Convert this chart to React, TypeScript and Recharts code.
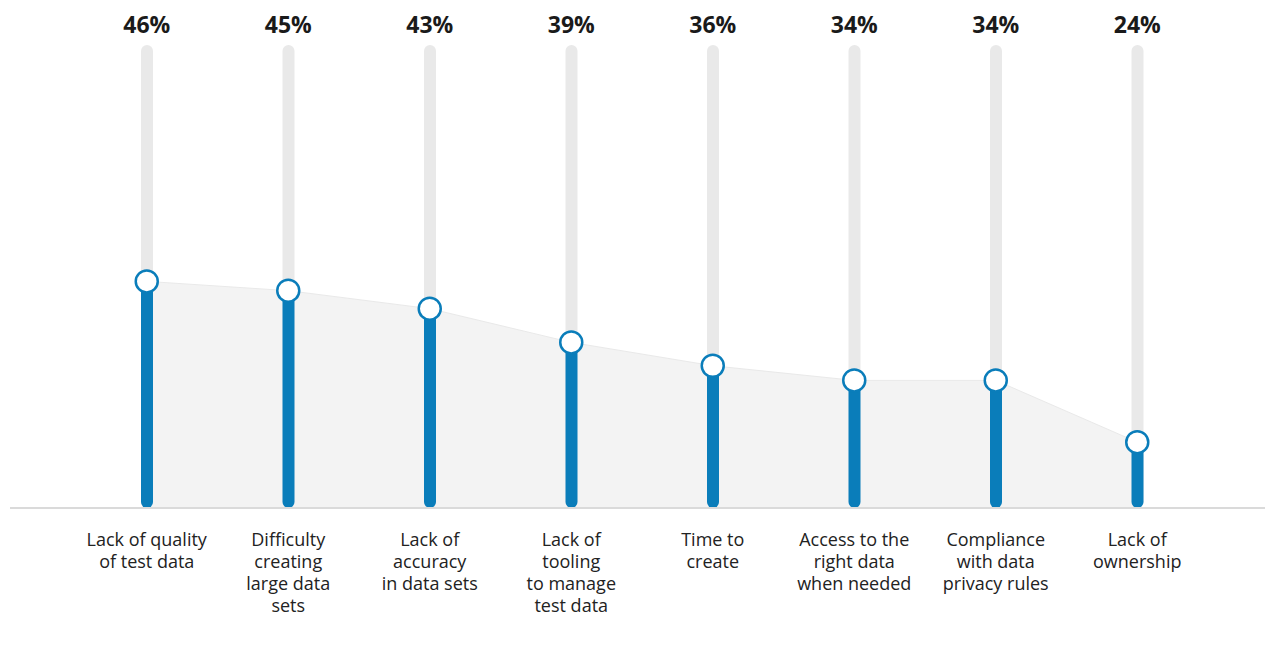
import { Area, Bar, ComposedChart, Line, XAxis, YAxis } from 'recharts'

const categories = [
  'Lack of quality\nof test data',
  'Difficulty\ncreating\nlarge data\nsets',
  'Lack of\naccuracy\nin data sets',
  'Lack of\ntooling\nto manage\ntest data',
  'Time to\ncreate',
  'Access to the\nright data\nwhen needed',
  'Compliance\nwith data\nprivacy rules',
  'Lack of\nownership',
]
const shares = [46, 45, 43, 39, 36, 34, 34, 24]

const data = categories.map((name, i) => ({ name, share: shares[i], label: `${shares[i]}%` }))

const BLUE = '#0a7dba'
const FONT = '"Open Sans", sans-serif'

// the source chart is not drawn on a linear scale, so a small power scale
const powScale = (exponent: number): any => {
  let dom = [0, 1]
  let rng = [0, 1]
  const f = (v: number) => Math.pow(Math.max(v, 0), exponent)
  const scale: any = (v: number) => {
    const t = (f(v) - f(dom[0])) / (f(dom[1]) - f(dom[0]))
    return rng[0] + t * (rng[1] - rng[0])
  }
  scale.domain = (d?: number[]) => {
    if (d === undefined) return dom
    dom = [...d]
    return scale
  }
  scale.range = (r?: number[]) => {
    if (r === undefined) return rng
    rng = [...r]
    return scale
  }
  scale.invert = (y: number) => {
    const t = (y - rng[0]) / (rng[1] - rng[0])
    return Math.pow(f(dom[0]) + t * (f(dom[1]) - f(dom[0])), 1 / exponent)
  }
  scale.ticks = () => [dom[0], dom[1]]
  scale.tickFormat = () => (v: number) => String(v)
  scale.nice = () => scale
  scale.clamp = () => scale
  scale.copy = () => powScale(exponent).domain(dom).range(rng)
  return scale
}

const CategoryTick = ({ x, y, payload }: any) => (
  <text x={x} y={y} textAnchor='middle' fill='#222' fontSize={18} fontFamily={FONT}>
    {String(payload.value)
      .split('\n')
      .map((line, i) => (
        <tspan key={i} x={x} dy={i === 0 ? 38 : 22}>
          {line}
        </tspan>
      ))}
  </text>
)

const ShareTick = ({ x, y, payload }: any) => (
  <text x={x} y={y} dy={-4} textAnchor='middle' fill='#1a1a1a' fontSize={23} fontWeight='bold' fontFamily={FONT}>
    {payload.value}
  </text>
)

const App = () => {
  return (
    <div style={{ margin: '-8px 0 0 -8px', width: 1273, height: 658, background: '#fff' }}>
      <ComposedChart
        width={1273}
        height={658}
        data={data}
        margin={{ top: 0, right: 1, left: 10, bottom: 30 }}>
        <XAxis
          dataKey='name'
          interval={0}
          height={120}
          tickLine={false}
          tickMargin={0}
          tickSize={0}
          tick={<CategoryTick />}
          axisLine={{ stroke: '#dadada', strokeWidth: 2 }}
          padding={{ left: 66, right: 64 }}
        />
        <XAxis
          xAxisId='top'
          orientation='top'
          dataKey='label'
          interval={0}
          height={45}
          tickLine={false}
          axisLine={false}
          tick={<ShareTick />}
          padding={{ left: 66, right: 64 }}
        />
        <YAxis hide domain={[0, 67]} scale={powScale(1.9)} />
        <Area
          type='linear'
          dataKey='share'
          fill='#f3f3f3'
          fillOpacity={1}
          stroke='#e9e9e9'
          strokeWidth={1}
          dot={false}
          activeDot={false}
          isAnimationActive={false}
        />
        <Bar
          dataKey='share'
          barSize={12}
          fill={BLUE}
          radius={6}
          background={{ fill: '#e9e9e9', radius: 6 }}
          isAnimationActive={false}
        />
        <Line
          type='linear'
          dataKey='share'
          stroke='none'
          dot={{ r: 11, fill: '#fff', stroke: BLUE, strokeWidth: 2.5 }}
          activeDot={false}
          isAnimationActive={false}
        />
      </ComposedChart>
    </div>
  )
}

export default App
